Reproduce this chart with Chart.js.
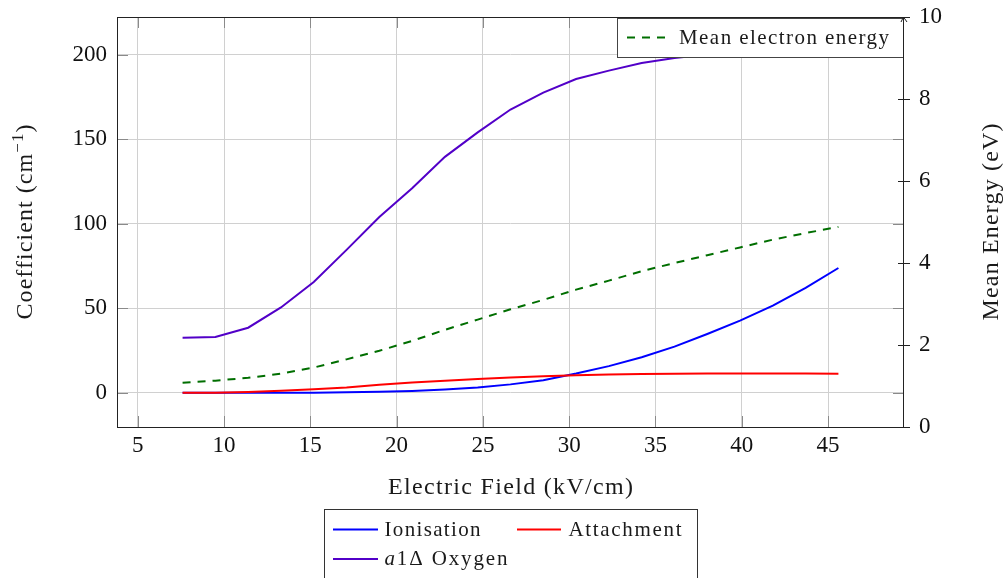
<!DOCTYPE html>
<html><head><meta charset="utf-8">
<script src="https://cdn.jsdelivr.net/npm/chart.js"></script>
<style>html,body{margin:0;padding:0;background:#fff;}canvas{display:block}</style>
</head><body>
<canvas id="c" width="1007" height="578"></canvas>
<script>
// ---- data ----
const fieldKVcm    = [7.6, 9.5, 11.4, 13.3, 15.2, 17.1, 19.0, 20.9, 22.8, 24.7, 26.6, 28.5, 30.4, 32.3, 34.2, 36.1, 38.0, 39.9, 41.8, 43.7, 45.6];
const ionisation   = [0, 0, 0, 0.05, 0.1, 0.3, 0.6, 1.1, 2.0, 3.2, 5.0, 7.5, 11.4, 15.8, 21.0, 27.3, 34.8, 42.7, 51.5, 62.0, 73.8];
const attachment   = [0, 0.1, 0.5, 1.2, 2.1, 3.2, 4.8, 6.1, 7.1, 8.2, 9.1, 9.8, 10.4, 10.8, 11.1, 11.3, 11.4, 11.5, 11.5, 11.4, 11.3];
const oxygenA1Delta= [32.5, 33.0, 38.5, 50.5, 65.5, 84.5, 104, 121, 139.5, 154, 167.5, 177.5, 185.5, 190.5, 195, 198, 200, 201, 201.6, 202, 202.2];
const meanEnergy   = [1.08, 1.13, 1.2, 1.3, 1.45, 1.65, 1.86, 2.1, 2.37, 2.62, 2.87, 3.1, 3.35, 3.57, 3.8, 4.0, 4.19, 4.38, 4.57, 4.73, 4.88];
const xTicks      = [5, 10, 15, 20, 25, 30, 35, 40, 45];
const yLeftTicks  = [0, 50, 100, 150, 200];
const yRightTicks = [0, 2, 4, 6, 8, 10];
const seriesLabels = ['Ionisation', 'Attachment', 'a1Δ Oxygen', 'Mean electron energy'];

const FONT = 'Liberation Serif';
const COLORS = {ion:'#0000ff', att:'#ff0000', oxy:'#5200c8', mean:'#006e00'};
const pts = arr => fieldKVcm.map((x, i) => ({x, y: arr[i]}));

function spacedText(ctx, parts, x, y, target, align) {
  let nat = 0, n = 0;
  parts.forEach(p => { ctx.font = p.font; ctx.letterSpacing = '0px'; nat += ctx.measureText(p.t).width; n += [...p.t].length; });
  const ls = target ? Math.max(0, (target - nat) / Math.max(1, n - 1)) : 0;
  const total = nat + ls * (n - 1);
  let cx = align === 'center' ? x - total / 2 : x;
  parts.forEach(p => {
    ctx.font = p.font; ctx.letterSpacing = ls + 'px';
    ctx.textAlign = 'left'; ctx.textBaseline = 'alphabetic';
    ctx.fillText(p.t, cx, y + (p.dy || 0));
    cx += ctx.measureText(p.t).width;
  });
  ctx.letterSpacing = '0px';
}

const decor = {
  id: 'decor',
  afterDatasetsDraw(chart) {
    const ctx = chart.ctx, a = chart.chartArea;
    const sx = chart.scales.x, sy = chart.scales.y, sy2 = chart.scales.y2;
    ctx.save();
    // tick marks
    ctx.strokeStyle = '#8a8a8a'; ctx.lineWidth = 1;
    ctx.beginPath();
    yLeftTicks.forEach(v => {
      const p = Math.round(sy.getPixelForValue(v)) + 0.5;
      ctx.moveTo(a.left, p); ctx.lineTo(a.left + 11, p);
      ctx.moveTo(a.right - 11, p); ctx.lineTo(a.right, p);
    });
    xTicks.forEach(v => {
      const p = Math.round(sx.getPixelForValue(v)) + 0.5;
      ctx.moveTo(p, a.bottom); ctx.lineTo(p, a.bottom - 11);
      ctx.moveTo(p, a.top); ctx.lineTo(p, a.top + 11);
    });
    ctx.stroke();
    // top-right legend box (over the curves)
    ctx.fillStyle = '#fff'; ctx.strokeStyle = '#444';
    ctx.fillRect(617.5, 18.5, a.right - 618, 39);
    ctx.strokeRect(617.5, 18.5, a.right - 618, 39);
    ctx.strokeStyle = COLORS.mean; ctx.lineWidth = 2; ctx.setLineDash([8, 7]);
    ctx.beginPath(); ctx.moveTo(627, 37.5); ctx.lineTo(669, 37.5); ctx.stroke();
    ctx.setLineDash([]);
    ctx.fillStyle = '#1a1a1a';
    spacedText(ctx, [{t: seriesLabels[3], font: `21px "${FONT}"`}], 679, 43.5, 210, 'left');
    // frame
    ctx.strokeStyle = '#222'; ctx.lineWidth = 1;
    ctx.strokeRect(a.left + 0.5, a.top + 0.5, a.right - a.left - 1, a.bottom - a.top);
    // right axis ticks (centered) and arrow
    ctx.beginPath();
    yRightTicks.forEach(v => {
      const p = Math.round(sy2.getPixelForValue(v)) + 0.5;
      ctx.moveTo(a.right - 6, p); ctx.lineTo(a.right + 6, p);
    });
    ctx.moveTo(a.right - 3, a.top + 5); ctx.lineTo(a.right - 0.5, a.top); ctx.lineTo(a.right + 3, a.top + 5);
    ctx.stroke();
    // axis titles
    ctx.fillStyle = '#1a1a1a';
    spacedText(ctx, [{t: 'Electric Field (kV/cm)', font: `24px "${FONT}"`}], (a.left + a.right) / 2, 494, 245, 'center');
    ctx.save(); ctx.translate(32, (a.top + a.bottom) / 2); ctx.rotate(-Math.PI / 2);
    spacedText(ctx, [
      {t: 'Coefficient (cm', font: `24px "${FONT}"`},
      {t: '−1', font: `17px "${FONT}"`, dy: -9},
      {t: ')', font: `24px "${FONT}"`}
    ], 0, 0, 195, 'center');
    ctx.restore();
    ctx.save(); ctx.translate(998, (a.top + a.bottom) / 2); ctx.rotate(-Math.PI / 2);
    spacedText(ctx, [{t: 'Mean Energy (eV)', font: `24px "${FONT}"`}], 0, 0, 197, 'center');
    ctx.restore();
    // bottom legend
    ctx.strokeStyle = '#333'; ctx.lineWidth = 1;
    ctx.strokeRect(324.5, 509.5, 373, 120);
    const entry = (color, x0, x1, y, parts, tx, ty, w) => {
      ctx.strokeStyle = color; ctx.lineWidth = 2;
      ctx.beginPath(); ctx.moveTo(x0, y); ctx.lineTo(x1, y); ctx.stroke();
      ctx.fillStyle = '#1a1a1a';
      spacedText(ctx, parts, tx, ty, w, 'left');
    };
    entry(COLORS.ion, 333, 378, 529.5, [{t: seriesLabels[0], font: `21px "${FONT}"`}], 384.5, 535.5, 96);
    entry(COLORS.att, 517, 561, 529.5, [{t: seriesLabels[1], font: `21px "${FONT}"`}], 568.5, 535.5, 113);
    entry(COLORS.oxy, 333, 378, 559, [{t: 'a', font: `italic 21px "${FONT}"`}, {t: '1Δ Oxygen', font: `21px "${FONT}"`}], 384.5, 565, 123);
    ctx.restore();
  }
};

const noPadV = s => { s.paddingTop = 0; s.paddingBottom = 0; };
const tickFont = {family: FONT, size: 23};
new Chart(document.getElementById('c'), {
  type: 'line',
  data: {datasets: [
    {label: seriesLabels[3], data: pts(meanEnergy), yAxisID: 'y2', borderColor: COLORS.mean, borderWidth: 2, borderDash: [8, 7], pointRadius: 0, tension: 0, order: 0},
    {label: seriesLabels[0], data: pts(ionisation), yAxisID: 'y', borderColor: COLORS.ion, borderWidth: 2, pointRadius: 0, tension: 0, order: 3},
    {label: seriesLabels[1], data: pts(attachment), yAxisID: 'y', borderColor: COLORS.att, borderWidth: 2, pointRadius: 0, tension: 0, order: 2},
    {label: seriesLabels[2], data: pts(oxygenA1Delta), yAxisID: 'y', borderColor: COLORS.oxy, borderWidth: 2, pointRadius: 0, tension: 0, order: 1}
  ]},
  options: {
    responsive: false, animation: false, devicePixelRatio: 1,
    layout: {padding: {top: 17, left: 0, right: 0, bottom: 0}},
    plugins: {legend: {display: false}, tooltip: {enabled: false}},
    scales: {
      x: {type: 'linear', min: 3.8, max: 49.4,
        afterBuildTicks: s => { s.ticks = xTicks.map(v => ({value: v})); },
        afterFit: s => { s.height = 151; s.paddingLeft = 0; s.paddingRight = 0; },
        grid: {color: '#d0d0d0', drawTicks: false}, border: {display: false},
        ticks: {font: tickFont, color: '#111', padding: 5, maxRotation: 0, autoSkip: false}},
      y: {type: 'linear', position: 'left', min: -20.2, max: 222.2,
        afterBuildTicks: s => { s.ticks = yLeftTicks.map(v => ({value: v})); },
        afterFit: s => { s.width = 117; noPadV(s); },
        grid: {color: '#d0d0d0', drawTicks: false}, border: {display: false},
        ticks: {font: tickFont, color: '#111', padding: 10, autoSkip: false}},
      y2: {type: 'linear', position: 'right', min: 0, max: 10,
        afterBuildTicks: s => { s.ticks = yRightTicks.map(v => ({value: v})); },
        afterFit: s => { s.width = 103; noPadV(s); },
        grid: {drawOnChartArea: false, drawTicks: false}, border: {display: false},
        ticks: {font: tickFont, color: '#111', padding: 15, autoSkip: false}}
    }
  },
  plugins: [decor]
});
</script>
</body></html>
